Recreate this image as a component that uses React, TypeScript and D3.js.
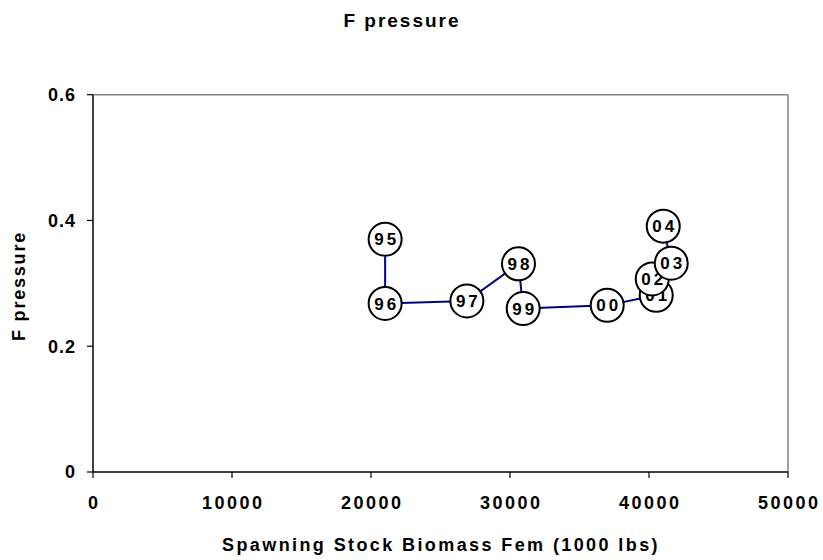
import React from "react";
import * as d3 from "d3";

const years = ["95", "96", "97", "98", "99", "00", "01", "02", "03", "04"];
const ssb = [21017, 21017, 26897, 30610, 30949, 36994, 40520, 40233, 41601, 41025];
const fp = [0.370, 0.268, 0.272, 0.331, 0.260, 0.265, 0.281, 0.307, 0.332, 0.391];
const xTicks = [0, 10000, 20000, 30000, 40000, 50000];
const yTicks = [0, 0.2, 0.4, 0.6];

const W = 823;
const H = 560;
const M = { left: 93, right: 788, top: 94.7, bottom: 472 };
const FONT = "'Liberation Sans', Arial, sans-serif";

export default function App() {
  const x = d3.scaleLinear().domain([0, 50000]).range([M.left, M.right]);
  const y = d3.scaleLinear().domain([0, 0.6]).range([M.bottom, M.top]);
  const pts = years.map((yr, i) => ({ yr, x: x(ssb[i]), y: y(fp[i]) }));
  const line = d3.line<{ x: number; y: number }>().x((d) => d.x).y((d) => d.y);

  return (
    <svg
      width={W}
      height={H}
      style={{ position: "absolute", left: 0, top: 0, background: "#fff" }}
      fontFamily={FONT}
      fontWeight="bold"
    >
      <rect x={0} y={0} width={W} height={H} fill="#fff" />
      {/* title */}
      <text x={402} y={26.5} textAnchor="middle" fontSize={19} letterSpacing={2}>
        F pressure
      </text>
      {/* plot border */}
      <line x1={M.left} x2={M.right} y1={M.top} y2={M.top} stroke="#808080" strokeWidth={1.5} />
      <line x1={M.right} x2={M.right} y1={M.top} y2={M.bottom} stroke="#808080" strokeWidth={1.5} />
      <line x1={M.left} x2={M.left} y1={M.top} y2={M.bottom} stroke="#000" strokeWidth={1.5} />
      <line x1={M.left} x2={M.right} y1={M.bottom} y2={M.bottom} stroke="#000" strokeWidth={1.5} />
      {/* y ticks */}
      {yTicks.map((t) => (
        <g key={"y" + t}>
          <line x1={M.left - 6} x2={M.left} y1={y(t)} y2={y(t)} stroke="#000" strokeWidth={1.2} />
          <text x={76} y={y(t)} dy="0.36em" textAnchor="end" fontSize={18} letterSpacing={1}>
            {t === 0 ? "0" : d3.format(".1f")(t)}
          </text>
        </g>
      ))}
      {/* x ticks */}
      {xTicks.map((t) => (
        <g key={"x" + t}>
          <line x1={x(t)} x2={x(t)} y1={M.bottom} y2={M.bottom + 6} stroke="#000" strokeWidth={1.2} />
          <text x={x(t) + 1.25} y={509} textAnchor="middle" fontSize={18} letterSpacing={2.5}>
            {t}
          </text>
        </g>
      ))}
      {/* axis titles */}
      <text x={441} y={551} textAnchor="middle" fontSize={18} letterSpacing={2.4}>
        Spawning Stock Biomass Fem (1000 lbs)
      </text>
      <text
        transform={`translate(25,${286}) rotate(-90)`}
        textAnchor="middle"
        fontSize={18}
        letterSpacing={1.8}
      >
        F pressure
      </text>
      {/* line */}
      <path d={line(pts) || ""} fill="none" stroke="#000080" strokeWidth={2} />
      {/* markers */}
      {pts.map((p) => (
        <g key={p.yr}>
          <circle cx={p.x} cy={p.y} r={16.5} fill="#fff" stroke="#000" strokeWidth={2} />
          <text x={p.x + 1.5} y={p.y} dy="0.36em" textAnchor="middle" fontSize={17} letterSpacing={3}>
            {p.yr}
          </text>
        </g>
      ))}
    </svg>
  );
}
